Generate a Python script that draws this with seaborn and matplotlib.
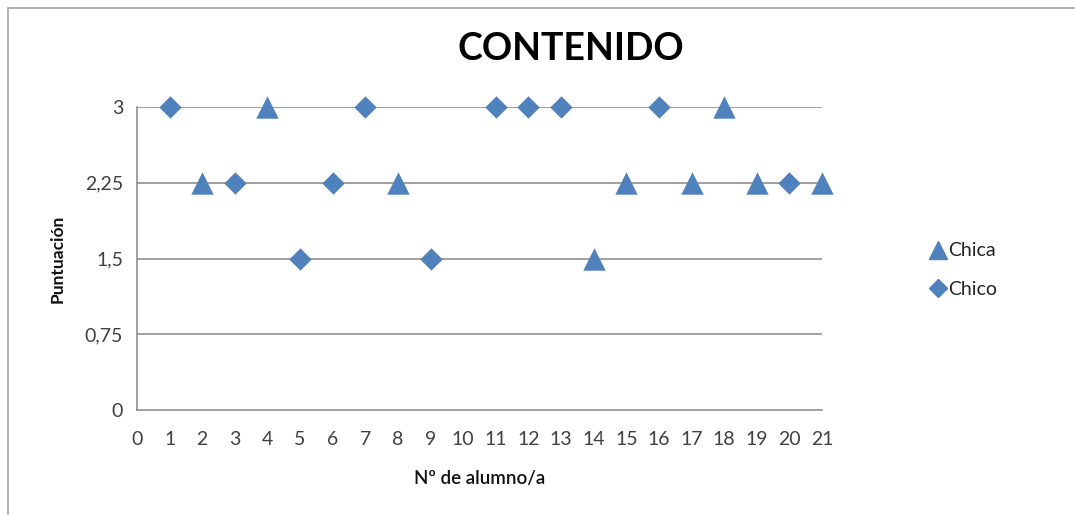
import matplotlib
matplotlib.use("Agg")
import matplotlib.pyplot as plt
from matplotlib.lines import Line2D
from matplotlib.patches import Rectangle
import seaborn as sns
import pandas as pd

# Scores per student (Nº de alumno/a), split by group
chica_alumno = [2, 4, 8, 14, 15, 17, 18, 19, 21]
chica_punt = [2.25, 3, 2.25, 1.5, 2.25, 2.25, 3, 2.25, 2.25]
chico_alumno = [1, 3, 5, 6, 7, 9, 11, 12, 13, 16, 20]
chico_punt = [3, 2.25, 1.5, 2.25, 3, 1.5, 3, 3, 3, 3, 2.25]

y_ticks = [0, 0.75, 1.5, 2.25, 3]
y_tick_labels = ["0", "0,75", "1,5", "2,25", "3"]
x_ticks = list(range(0, 22))

titulo = "CONTENIDO"
x_label = "Nº de alumno/a"
y_label = "Puntuación"

BLUE = "#4F81BD"
GRID = "#868686"
FONT = ["Lato", "DejaVu Sans"]

sns.set_theme(style="white")
plt.rcParams["font.family"] = FONT

fig = plt.figure(figsize=(10.75, 5.15), dpi=100)
ax = fig.add_axes([137 / 1075, 1 - 410 / 515, (822 - 137) / 1075, (410 - 107) / 515])

df_chica = pd.DataFrame({"alumno": chica_alumno, "punt": chica_punt})
df_chico = pd.DataFrame({"alumno": chico_alumno, "punt": chico_punt})

for yv in y_ticks[1:]:
    ax.axhline(yv, color=GRID, lw=1.1, zorder=1)

sns.scatterplot(data=df_chica, x="alumno", y="punt", ax=ax, marker="^", s=260,
                color=BLUE, edgecolor=BLUE, linewidth=0, zorder=3, clip_on=False)
sns.scatterplot(data=df_chico, x="alumno", y="punt", ax=ax, marker="D", s=130,
                color=BLUE, edgecolor=BLUE, linewidth=0, zorder=3, clip_on=False)

ax.set_xlim(0, 21)
ax.set_ylim(0, 3)
ax.set_xticks(x_ticks)
ax.set_xticklabels([str(v) for v in x_ticks])
ax.set_yticks(y_ticks)
ax.set_yticklabels(y_tick_labels)

for side in ("top", "right"):
    ax.spines[side].set_visible(False)
for side in ("left", "bottom"):
    ax.spines[side].set_color(GRID)
    ax.spines[side].set_linewidth(1.1)

ax.tick_params(axis="both", which="major", direction="out", color=GRID,
               width=1.1, labelsize=14, labelcolor="#404040")
ax.tick_params(axis="x", length=6, pad=9)
ax.tick_params(axis="y", length=6, pad=4)
ax.grid(False)

ax.set_xlabel(x_label, fontsize=13.5, fontweight="semibold", color="#111111", labelpad=16)
ax.set_ylabel(y_label, fontsize=12.5, fontweight="bold", color="#111111", labelpad=14)

fig.text(571 / 1075, 1 - 49 / 515, titulo, ha="center", va="center",
         fontsize=27, fontweight="bold", color="#000000")

handles = [
    Line2D([], [], marker="^", color=BLUE, linestyle="none", markersize=13),
    Line2D([], [], marker="D", color=BLUE, linestyle="none", markersize=9),
]
fig.legend(handles, ["Chica", "Chico"], loc="center left",
           bbox_to_anchor=(922 / 1075, 1 - 270 / 515), frameon=False,
           fontsize=14, handlelength=0.8, handletextpad=0.15, labelspacing=1.1,
           borderaxespad=0, labelcolor="#222222")

fig.patches.append(Rectangle((8 / 1075, -0.05), 1.2, 1 - 8 / 515 + 0.05,
                             transform=fig.transFigure, fill=False,
                             edgecolor="#A6A6A6", linewidth=1.2))

fig.savefig("out.png", dpi=100, facecolor="white")
